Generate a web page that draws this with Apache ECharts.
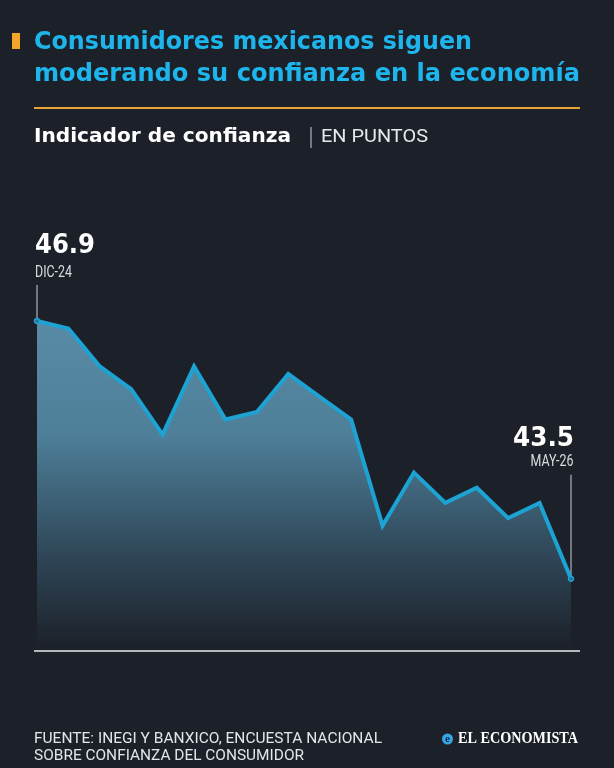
<!DOCTYPE html>
<html><head><meta charset="utf-8">
<script src="https://cdn.jsdelivr.net/npm/echarts@6/dist/echarts.min.js"></script>
<style>html,body{margin:0;padding:0;background:#1c2129;}#c{width:614px;height:768px;}</style>
</head><body><div id="c"></div>
<script>
const categories = ['DIC-24','ENE-25','FEB-25','MAR-25','ABR-25','MAY-25','JUN-25','JUL-25','AGO-25','SEP-25','OCT-25','NOV-25','DIC-25','ENE-26','FEB-26','MAR-26','ABR-26','MAY-26'];
const confianza = [46.9, 46.8, 46.3, 46.0, 45.4, 46.3, 45.6, 45.7, 46.2, 45.9, 45.6, 44.2, 44.9, 44.5, 44.7, 44.3, 44.5, 43.5];
const titleLines = ['Consumidores mexicanos siguen', 'moderando su confianza en la economía'];
const subtitle = 'Indicador de confianza';
const unitText = 'EN PUNTOS';
const sourceLines = ['FUENTE: INEGI Y BANXICO, ENCUESTA NACIONAL', 'SOBRE CONFIANZA DEL CONSUMIDOR'];
const brand = 'EL ECONOMISTA';

const BG = '#1c2129';
const chart = echarts.init(document.getElementById('c'), null, {renderer:'canvas'});
const last = confianza.length - 1;
const seriesData = confianza.map((v, i) => (i === 0 || i === last) ? {value: v, symbol: 'circle', symbolSize: 5} : {value: v, symbol: 'none'});

const mctx = document.createElement('canvas').getContext('2d');
function fit(text, font, target) { mctx.font = font; return target / mctx.measureText(text).width; }
function txt(text, font, fill, x, y, target, align) {
  return {type: 'text', x: x, y: y, scaleX: target ? fit(text, font, target) : 1,
    style: {text: text, font: font, fill: fill, align: align || 'left', verticalAlign: 'middle'}};
}

chart.setOption({
  backgroundColor: BG,
  animation: false,
  grid: {left: 37, right: 43, top: 283, bottom: 121},
  xAxis: {type: 'category', data: categories, boundaryGap: false, show: false},
  yAxis: {type: 'value', min: 42.6, max: 47.4, show: false},
  series: [{
    type: 'line', data: seriesData, showSymbol: true,
    lineStyle: {color: '#1ca3d4', width: 4, join: 'miter'},
    itemStyle: {color: '#2f6f8c', borderColor: '#1ca3d4', borderWidth: 1.5},
    areaStyle: {opacity: 1, color: new echarts.graphic.LinearGradient(0, 0, 0, 1, [
      {offset: 0, color: '#5a8ba6'},
      {offset: 0.35, color: '#4e7f99'},
      {offset: 0.7, color: '#30495b'},
      {offset: 1, color: BG}
    ])}
  }]
});

const p0 = chart.convertToPixel({seriesIndex: 0}, [0, confianza[0]]);
const pN = chart.convertToPixel({seriesIndex: 0}, [last, confianza[last]]);
const gridBottom = chart.convertToPixel({yAxisIndex: 0}, 42.6);

const TF = 'bold 25px "DejaVu Sans"';
const CF = '17px Roboto';
chart.setOption({
  graphic: [
    {type: 'rect', shape: {x: 12, y: 33, width: 8, height: 16}, style: {fill: '#f4a52c'}},
    txt(titleLines[0], TF, '#1db5ec', 34, 42, 438),
    txt(titleLines[1], TF, '#1db5ec', 34, 74, 546),
    {type: 'line', shape: {x1: 34, y1: 108, x2: 580, y2: 108}, style: {stroke: '#e9a436', lineWidth: 2}},
    txt(subtitle, 'bold 20px "DejaVu Sans"', '#ffffff', 34, 137, 257),
    {type: 'line', shape: {x1: 311, y1: 127, x2: 311, y2: 148}, style: {stroke: '#cfd3d8', lineWidth: 1}},
    txt(unitText, '19px Roboto', '#e6e8eb', 321, 137.5, 107),
    // first point annotation
    txt(confianza[0].toFixed(1), 'bold 26px "DejaVu Sans"', '#ffffff', p0[0] - 2, p0[1] - 75, 60),
    txt(categories[0], CF, '#d9dde2', p0[0] - 2, p0[1] - 48.5, 37),
    {type: 'line', shape: {x1: p0[0], y1: p0[1] - 36, x2: p0[0], y2: p0[1] - 2}, style: {stroke: '#c9ced4', lineWidth: 1}},
    // last point annotation
    txt(confianza[last].toFixed(1), 'bold 26px "DejaVu Sans"', '#ffffff', pN[0] + 3, pN[1] - 140, 61, 'right'),
    txt(categories[last], CF, '#d9dde2', pN[0] + 2.5, pN[1] - 117.5, 43, 'right'),
    {type: 'line', shape: {x1: pN[0], y1: pN[1] - 104, x2: pN[0], y2: pN[1] - 2}, style: {stroke: '#c9ced4', lineWidth: 1}},
    // baseline
    {type: 'line', shape: {x1: 34, y1: gridBottom + 4, x2: 580, y2: gridBottom + 4}, style: {stroke: '#e8eaed', lineWidth: 1.5}},
    // footer
    txt(sourceLines[0], '15px Roboto', '#e3e5e8', 34, 739, 348),
    txt(sourceLines[1], '15px Roboto', '#e3e5e8', 34, 756, 270),
    {type: 'circle', shape: {cx: 447.5, cy: 739, r: 5.5}, style: {fill: '#36a6e6'}},
    {type: 'text', x: 447.5, y: 739, style: {text: 'e', fill: '#0f2a45', font: 'bold 11px "Liberation Serif"', align: 'center', verticalAlign: 'middle'}},
    txt(brand, 'bold 16px "Liberation Serif"', '#ffffff', 458, 739, 120)
  ]
});
</script></body></html>
